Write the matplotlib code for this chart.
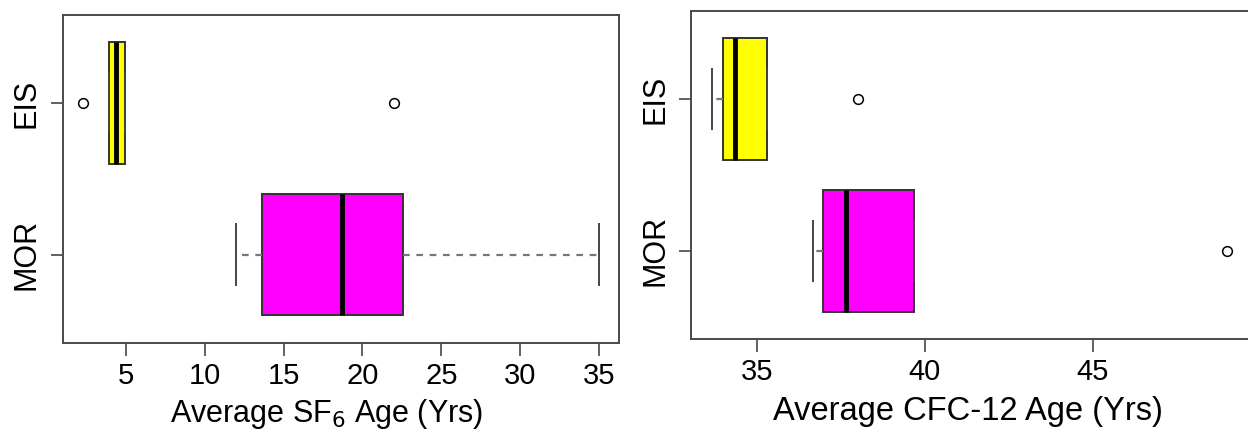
import matplotlib.pyplot as plt

plt.rcParams['font.family'] = ['Liberation Sans', 'DejaVu Sans']

groups = ['MOR', 'EIS']
colors = ['#FF00FF', '#FFFF00']

# SF6 ages (years): box stats per group, MOR then EIS
sf6_q1 = [13.65, 3.92]
sf6_med = [18.73, 4.36]
sf6_q3 = [22.55, 4.94]
sf6_lo = [12.0, 3.92]
sf6_hi = [35.0, 4.94]
sf6_out = [[], [2.3, 22.0]]

# CFC-12 ages (years)
cfc_q1 = [36.97, 33.99]
cfc_med = [37.66, 34.35]
cfc_q3 = [39.68, 35.31]
cfc_lo = [36.66, 33.66]
cfc_hi = [39.68, 35.31]
cfc_out = [[49.0], [38.0]]

sf6_ticks = [5, 10, 15, 20, 25, 30, 35]
cfc_ticks = [35, 40, 45]

spine_col = '#4a4a4a'


def stats(q1, med, q3, lo, hi, out):
    res = []
    for i in range(len(groups)):
        res.append(dict(q1=q1[i], med=med[i], q3=q3[i],
                        whislo=lo[i], whishi=hi[i], fliers=out[i]))
    return res


def draw(ax, st, ticks, xlim, label, label_size, label_x):
    bp = ax.bxp(st, positions=[1, 2], widths=0.8, vert=False,
                capwidths=0.4, patch_artist=True,
                boxprops=dict(edgecolor='#333333', linewidth=1.4),
                medianprops=dict(color='black', linewidth=3.5, solid_capstyle='butt'),
                whiskerprops=dict(color='#777777', linewidth=1.6, linestyle=(0, (3, 3))),
                capprops=dict(color='#444444', linewidth=1.4),
                flierprops=dict(marker='o', markerfacecolor='none',
                                markeredgecolor='black', markersize=7,
                                markeredgewidth=1.1))
    for patch, c in zip(bp['boxes'], colors):
        patch.set_facecolor(c)
    ax.set_ylim(0.42, 2.58)
    ax.set_xlim(*xlim)
    ax.set_xticks(ticks)
    ax.set_xticklabels([str(t) for t in ticks])
    ax.set_yticks([1, 2])
    ax.set_yticklabels(groups, rotation=90, va='center')
    ax.tick_params(axis='x', labelsize=21, length=9, width=1.3,
                   color='#555555', pad=5)
    ax.tick_params(axis='y', labelsize=22, length=9, width=1.3,
                   color='#555555', pad=6)
    for s in ax.spines.values():
        s.set_color(spine_col)
        s.set_linewidth(1.4)
    ax.set_xlabel(label, fontsize=label_size)
    ax.xaxis.set_label_coords(label_x, -0.165)
    ax.xaxis.label.set_va('top')


fig = plt.figure(figsize=(12.48, 4.34), dpi=100)
ax1 = fig.add_axes([62.7 / 1248, 1 - 342.7 / 434, (619.3 - 62.7) / 1248, (342.7 - 15) / 434])
ax2 = fig.add_axes([691 / 1248, 1 - 339 / 434, (1249 - 691) / 1248, (339 - 11) / 434])

draw(ax1, stats(sf6_q1, sf6_med, sf6_q3, sf6_lo, sf6_hi, sf6_out),
     sf6_ticks, (1.01, 36.27), 'Average SF$_6$ Age (Yrs)', 22, 0.475)
draw(ax2, stats(cfc_q1, cfc_med, cfc_q3, cfc_lo, cfc_hi, cfc_out),
     cfc_ticks, (33.04, 49.64), 'Average CFC-12 Age (Yrs)', 23.5, 0.497)
ax2.xaxis.set_label_coords(0.497, -0.175)

fig.savefig('out.png', dpi=100)
